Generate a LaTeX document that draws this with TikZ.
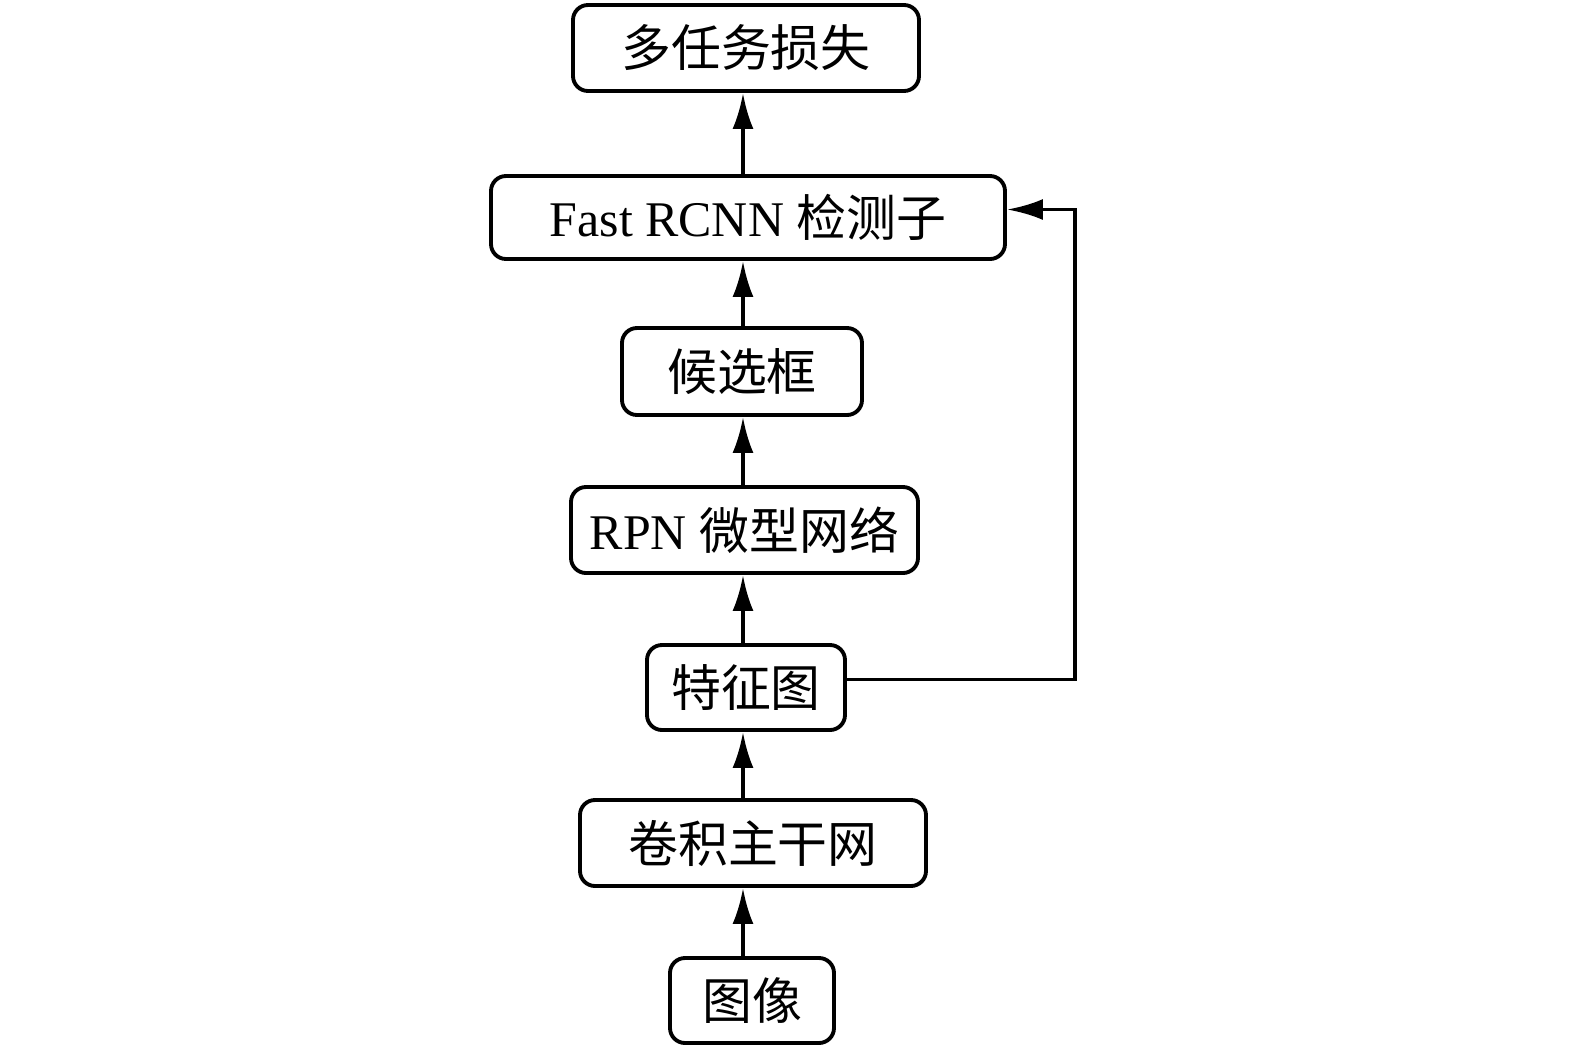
\documentclass[tikz,border=0pt]{standalone}
\usepackage{fontspec}
\setmainfont{Liberation Serif}
\newfontfamily\cjk{Noto Sans CJK SC}
\usetikzlibrary{arrows.meta}

\tikzset{
  box/.style={draw, line width=1.1pt, rounded corners=0.15cm, minimum height=0.86cm,
    inner sep=0pt, font=\fontsize{14.2}{16}\selectfont},
  arr/.style={line width=1.1pt, -{Latex[length=3.6mm,width=2.1mm]}}
}

\begin{document}
\begin{tikzpicture}
\useasboundingbox (0,0) rectangle (15.75,-10.53);
\node[box, minimum width=3.46cm] (loss) at (7.46,-0.48) {\cjk 多任务损失};
\node[box, minimum width=5.14cm, minimum height=0.83cm] (fast) at (7.48,-2.175) {Fast RCNN \cjk 检测子};
\node[box, minimum width=2.40cm, minimum height=0.87cm] (cand) at (7.42,-3.715) {\cjk 候选框};
\node[box, minimum width=3.47cm] (rpn) at (7.445,-5.30) {RPN \cjk 微型网络};
\node[box, minimum width=1.98cm, minimum height=0.85cm] (feat) at (7.46,-6.875) {\cjk 特征图};
\node[box, minimum width=3.46cm] (conv) at (7.53,-8.43) {\cjk 卷积主干网};
\node[box, minimum width=1.64cm, minimum height=0.85cm] (img) at (7.52,-10.005) {\cjk 图像};
\coordinate (spine) at (7.43,0);
\coordinate (loop) at (10.75,-4.5);
\draw[arr] (img.north -| spine) -- (conv.south -| spine);
\draw[arr] (conv.north -| spine) -- (feat.south -| spine);
\draw[arr] (feat.north -| spine) -- (rpn.south -| spine);
\draw[arr] (rpn.north -| spine) -- (cand.south -| spine);
\draw[arr] (cand.north -| spine) -- (fast.south -| spine);
\draw[arr] (fast.north -| spine) -- (loss.south -| spine);
\draw[arr] ([yshift=0.08cm]feat.east) -| (loop) |- ([yshift=0.08cm]fast.east);
\end{tikzpicture}
\end{document}
